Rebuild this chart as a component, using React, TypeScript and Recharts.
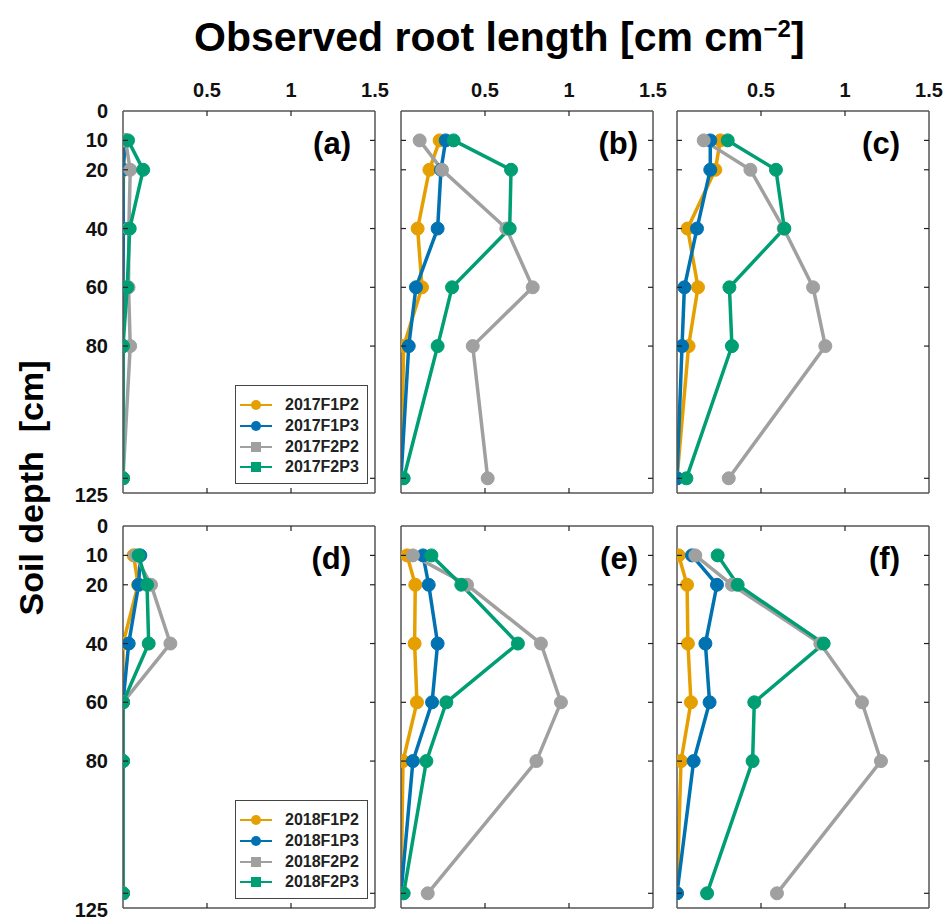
import { LineChart, Line, XAxis, YAxis, Legend } from 'recharts'

const DEPTHS = [10, 20, 40, 60, 80, 125]
const SERIES = ['F1P2', 'F1P3', 'F2P2', 'F2P3']
const COLORS = ['#E69F00', '#0072B2', '#A0A0A0', '#009E73']
const X_TICKS = [0.5, 1, 1.5]
const Y_TICKS = [0, 10, 20, 40, 60, 80, 125]

// observed root length per depth, one object per panel
const PANEL_A = {
  F1P2: [0.008, 0.003, 0, 0, 0, 0],
  F1P3: [0.015, 0, 0.002, 0, 0, 0],
  F2P2: [0.015, 0.043, 0.035, 0.033, 0.043, 0],
  F2P3: [0.03, 0.12, 0.04, 0.025, 0, 0],
}
const PANEL_B = {
  F1P2: [0.23, 0.169, 0.099, 0.125, 0.016, 0],
  F1P3: [0.266, 0.238, 0.218, 0.089, 0.046, 0],
  F2P2: [0.111, 0.244, 0.627, 0.784, 0.427, 0.516],
  F2P3: [0.313, 0.655, 0.647, 0.304, 0.218, 0.016],
}
const PANEL_C = {
  F1P2: [0.258, 0.228, 0.063, 0.125, 0.069, 0],
  F1P3: [0.198, 0.198, 0.119, 0.044, 0.03, 0],
  F2P2: [0.159, 0.437, 0.635, 0.81, 0.883, 0.308],
  F2P3: [0.302, 0.589, 0.639, 0.312, 0.327, 0.056],
}
const PANEL_D = {
  F1P2: [0.063, 0.09, 0, 0, 0, 0],
  F1P3: [0.103, 0.093, 0.034, 0, 0, 0],
  F2P2: [0.073, 0.167, 0.282, 0, 0, 0],
  F2P3: [0.093, 0.143, 0.153, 0, 0, 0],
}
const PANEL_E = {
  F1P2: [0.036, 0.085, 0.081, 0.095, 0.012, 0],
  F1P3: [0.131, 0.165, 0.218, 0.185, 0.071, 0],
  F2P2: [0.071, 0.393, 0.833, 0.952, 0.806, 0.159],
  F2P3: [0.181, 0.359, 0.696, 0.27, 0.151, 0.016],
}
const PANEL_F = {
  F1P2: [0.01, 0.06, 0.065, 0.083, 0.024, 0],
  F1P3: [0.089, 0.238, 0.169, 0.194, 0.099, 0],
  F2P2: [0.109, 0.327, 0.853, 1.101, 1.214, 0.595],
  F2P3: [0.242, 0.361, 0.873, 0.46, 0.45, 0.179],
}

const FONT = '"Liberation Sans", Arial, Helvetica, sans-serif'
const BOX_W = 252
const BOX_H = 382
const COL_X = [123, 401, 677]
const ROW_Y = [111, 526]
const TAG_GAP = [24, 15, 29]
// outer space round each plot box; axes take 1px of it
const PAD = { top: 50, right: 20, bottom: 12, left: 60 }
const MARGIN = { top: PAD.top - 1, right: PAD.right - 1, bottom: PAD.bottom - 1, left: PAD.left - 1 }
const AXIS_LINE = { stroke: '#555', strokeWidth: 1.5 }

const PANELS = [
  { tag: '(a)', year: 2017, values: PANEL_A, col: 0, row: 0 },
  { tag: '(b)', year: 2017, values: PANEL_B, col: 1, row: 0 },
  { tag: '(c)', year: 2017, values: PANEL_C, col: 2, row: 0 },
  { tag: '(d)', year: 2018, values: PANEL_D, col: 0, row: 1 },
  { tag: '(e)', year: 2018, values: PANEL_E, col: 1, row: 1 },
  { tag: '(f)', year: 2018, values: PANEL_F, col: 2, row: 1 },
]

type Values = Record<string, number[]>

const toRows = (values: Values) =>
  DEPTHS.map((depth, i) => {
    const row: Record<string, number> = { depth }
    SERIES.forEach((s) => { row[s] = values[s][i] })
    return row
  })

function xTick(props: any, top: boolean, showLabel: boolean) {
  const { x, y, payload } = props
  const dir = top ? 1 : -1
  return (
    <g>
      {payload.value < 1.5 && <line x1={x} y1={y} x2={x} y2={y + dir * 5} stroke="#222" strokeWidth={1.2} />}
      {showLabel && (
        <text x={x} y={y - 14} textAnchor="middle" fontSize={20} fontWeight="bold" fontFamily={FONT} fill="#111">
          {payload.value}
        </text>
      )}
    </g>
  )
}

function yTick(props: any, left: boolean, showLabel: boolean) {
  const { x, y, payload } = props
  const dir = left ? 1 : -1
  // the "125" label sits at the bottom edge of the box in the original
  const labelY = payload.value === 125 ? y + 17 : y
  return (
    <g>
      {payload.value > 0 && <line x1={x} y1={y} x2={x + dir * 5} y2={y} stroke="#222" strokeWidth={1.2} />}
      {showLabel && (
        <text x={x - 15} y={labelY + 7} textAnchor="end" fontSize={20} fontWeight="bold" fontFamily={FONT} fill="#111">
          {payload.value}
        </text>
      )}
    </g>
  )
}

function legendBox(year: number) {
  return () => (
    <div style={{ width: 133, height: 99, boxSizing: 'border-box', border: '1.5px solid #444', background: '#fff', paddingTop: 9, paddingLeft: 4 }}>
      {SERIES.map((s, i) => (
        <div key={s} style={{ display: 'flex', alignItems: 'center', height: 20.7 }}>
          <svg width={32} height={14}>
            <line x1={0} y1={7} x2={32} y2={7} stroke={COLORS[i]} strokeWidth={2} />
            {i < 2
              ? <circle cx={16} cy={7} r={5} fill={COLORS[i]} />
              : <rect x={11} y={2} width={10} height={10} fill={COLORS[i]} />}
          </svg>
          <span style={{ marginLeft: 13, fontSize: 16, fontWeight: 'bold', color: '#222', fontFamily: FONT, lineHeight: '16px' }}>
            {year}{s}
          </span>
        </div>
      ))}
    </div>
  )
}

function Panel({ values, year, col, row }: { values: Values; year: number; col: number; row: number }) {
  const data = toRows(values)
  const showX = row === 0
  const showY = col === 0
  return (
    <div style={{ position: 'absolute', left: COL_X[col] - PAD.left, top: ROW_Y[row] - PAD.top }}>
      <LineChart width={BOX_W + PAD.left + PAD.right} height={BOX_H + PAD.top + PAD.bottom} data={data} layout="vertical" margin={MARGIN}>
        <XAxis xAxisId="b" type="number" orientation="bottom" domain={[0, 1.5]} ticks={X_TICKS} interval={0}
          height={1} tickSize={0} tickMargin={0} tickLine={false} axisLine={AXIS_LINE} allowDataOverflow
          tick={(p: any) => xTick(p, false, false)} />
        <XAxis xAxisId="t" type="number" orientation="top" domain={[0, 1.5]} ticks={X_TICKS} interval={0}
          height={1} tickSize={0} tickMargin={0} tickLine={false} axisLine={AXIS_LINE} allowDataOverflow
          tick={(p: any) => xTick(p, true, showX)} />
        <YAxis yAxisId="l" type="number" dataKey="depth" orientation="left" domain={[0, 130]} ticks={Y_TICKS} interval={0}
          width={1} tickSize={0} tickMargin={0} tickLine={false} axisLine={AXIS_LINE} allowDataOverflow
          tick={(p: any) => yTick(p, true, showY)} />
        <YAxis yAxisId="r" type="number" dataKey="depth" orientation="right" domain={[0, 130]} ticks={Y_TICKS} interval={0}
          width={1} tickSize={0} tickMargin={0} tickLine={false} axisLine={AXIS_LINE} allowDataOverflow
          tick={(p: any) => yTick(p, false, false)} />
        {SERIES.map((s, i) => (
          <Line key={s} xAxisId="b" yAxisId="l" type="linear" dataKey={s} name={`${year}${s}`}
            stroke={COLORS[i]} strokeWidth={3.5}
            dot={{ r: 6.5, fill: COLORS[i], stroke: COLORS[i], strokeWidth: 1 }}
            activeDot={false} isAnimationActive={false} />
        ))}
        {col === 0 && (
          <Legend layout="horizontal" align="center" verticalAlign="middle" content={legendBox(year)}
            wrapperStyle={{ position: 'absolute', left: PAD.left + 112, top: PAD.top + 274, width: 133, height: 99 }} />
        )}
      </LineChart>
    </div>
  )
}

export default function App() {
  return (
    <div style={{ position: 'absolute', left: 0, top: 0, width: 949, height: 920, background: '#fff', overflow: 'hidden' }}>
      <svg width={949} height={920} style={{ position: 'absolute', left: 0, top: 0 }}>
        <text x={194} y={51} fontSize={41} fontWeight="bold" fontFamily={FONT} fill="#000">
          Observed root length [cm cm<tspan fontSize={24} dy={-14}>−2</tspan><tspan dy={14}>]</tspan>
        </text>
        <text transform="translate(43,488) rotate(-90)" textAnchor="middle" fontSize={34} fontWeight="bold"
          fontFamily={FONT} fill="#000" style={{ whiteSpace: 'pre' }}>
          Soil depth  [cm]
        </text>
        {PANELS.map((p) => (
          <text key={p.tag} x={COL_X[p.col] + BOX_W - TAG_GAP[p.col]} y={ROW_Y[p.row] + 43} textAnchor="end"
            fontSize={31} fontWeight="bold" fontFamily={FONT} fill="#000">
            {p.tag}
          </text>
        ))}
      </svg>
      {PANELS.map((p) => (
        <Panel key={p.tag} values={p.values} year={p.year} col={p.col} row={p.row} />
      ))}
    </div>
  )
}
